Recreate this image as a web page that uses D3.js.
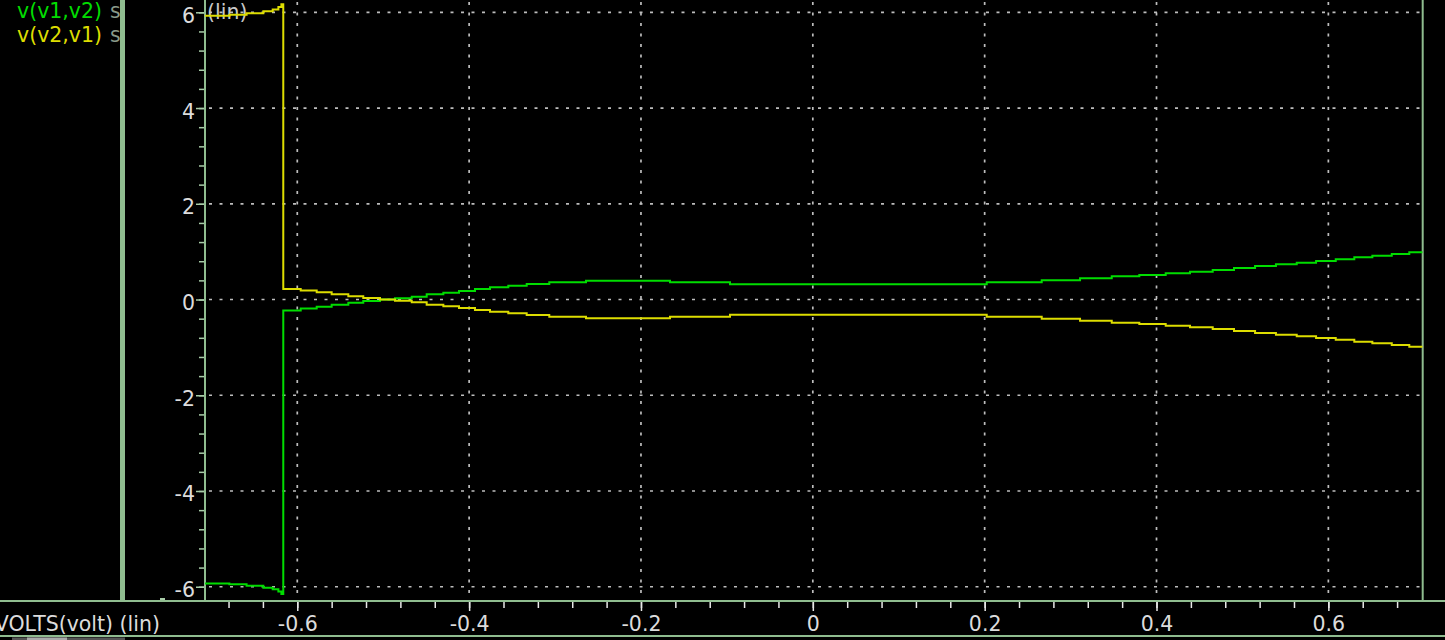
<!DOCTYPE html>
<html>
<head>
<meta charset="utf-8">
<script src="https://cdn.jsdelivr.net/npm/d3@7"></script>
<style>
    html,body{margin:0;padding:0;background:#000;}
    svg{display:block;}
    text{font-family:"DejaVu Sans",sans-serif;font-size:20.5px;}
</style>
</head>
<body>
<script>
// sweep points where each step starts (volts), last entry is the sweep end
var sweepX=[-0.7074,-0.679,-0.659,-0.6395,-0.6286,-0.622,-0.6185,-0.6163,
    -0.596,-0.5774,-0.560,-0.5406,-0.5232,-0.5037,-0.4863,-0.4668,-0.4494,-0.430,
    -0.4118,-0.3932,-0.3757,-0.3544,-0.333,-0.3067,-0.264,-0.1662,-0.0964,0.2024,
    0.2664,0.311,0.3479,0.38,0.4107,0.439,0.4654,0.4902,0.5147,0.539,0.5632,0.5857,
    0.6086,0.6302,0.6512,0.6738,0.6942,0.7098];
var v12=[-5.93,-5.95,-5.98,-6.02,-6.05,-6.10,-6.15,-0.23,
    -0.19,-0.15,-0.11,-0.07,-0.03,0.0,0.025,0.058,0.108,0.142,
    0.177,0.219,0.255,0.288,0.324,0.359,0.392,0.359,0.317,0.359,
    0.40,0.443,0.484,0.511,0.547,0.580,0.616,0.658,0.699,0.735,0.768,0.804,
    0.839,0.881,0.914,0.950,0.985,0.985];
var v21=[5.93,5.95,5.98,6.02,6.06,6.11,6.17,0.22,
    0.19,0.15,0.11,0.07,0.03,0.0,-0.025,-0.058,-0.108,-0.142,
    -0.177,-0.219,-0.255,-0.288,-0.324,-0.359,-0.392,-0.359,-0.317,-0.359,
    -0.40,-0.443,-0.484,-0.511,-0.547,-0.580,-0.616,-0.658,-0.699,-0.735,-0.768,-0.804,
    -0.839,-0.881,-0.914,-0.950,-0.985,-0.985];
var traceNames=["v(v1,v2)","v(v2,v1)"];
var xTicks=[-0.6,-0.4,-0.2,0,0.2,0.4,0.6];
var yTicks=[-6,-4,-2,0,2,4,6];

var W=1445, H=640;
var plotL=205, plotR=1422.7, plotT=0, plotB=601;
var frame="#8fbc8f";
var colors=["#00dd00","#dddd00"];

var svg=d3.select("body").append("svg")
    .attr("width",W)
    .attr("height",H);
svg.append("rect").attr("width",W).attr("height",H).attr("fill","#000");

var x=d3.scaleLinear().domain([-0.7074,0.7098]).range([plotL,plotR]);
var y=d3.scaleLinear().domain([-6.298,6.257]).range([plotB,plotT]);

svg.append("defs").append("clipPath").attr("id","plot")
    .append("rect")
        .attr("x",plotL).attr("y",plotT)
        .attr("width",plotR-plotL).attr("height",plotB-plotT);

// dotted grid
var grid=svg.append("g")
    .attr("stroke","#bdbdbd")
    .attr("stroke-width",1.7)
    .attr("stroke-dasharray","3,7.5");
grid.selectAll("line.h").data(yTicks)
    .enter().append("line")
        .attr("class","h")
        .attr("x1",plotL+4).attr("x2",plotR)
        .attr("y1",function(d){return y(d);})
        .attr("y2",function(d){return y(d);});
grid.selectAll("line.v").data(xTicks)
    .enter().append("line")
        .attr("class","v")
        .attr("x1",function(d){return x(d);})
        .attr("x2",function(d){return x(d);})
        .attr("y1",plotT+2).attr("y2",plotB);

// y axis (ticks on left side)
var yAxis=d3.axisLeft(y)
    .tickValues(yTicks)
    .tickSize(9)
    .tickFormat(function(d){return String(d);});
var yMinor=d3.axisLeft(y)
    .tickValues(d3.range(-6,6.01,0.4))
    .tickSize(6)
    .tickFormat("");
var gyMinor=svg.append("g").attr("transform","translate("+plotL+",0)").call(yMinor);
var gy=svg.append("g").attr("transform","translate("+plotL+",0)").call(yAxis);
[gy,gyMinor].forEach(function(g){
    g.select(".domain").remove();
    g.selectAll(".tick line").attr("stroke","#a8cca8").attr("stroke-width",1.5);
});
gy.selectAll(".tick text")
    .attr("fill","#dcdcdc")
    .attr("font-size",20.5)
    .attr("font-family","DejaVu Sans")
    .attr("x",-10)
    .attr("dy",null)
    .attr("y",10);

// x axis (ticks below)
var xAxis=d3.axisBottom(x)
    .tickValues(xTicks)
    .tickSize(10)
    .tickFormat(function(d){return d==0?"0":d.toFixed(1);});
var xMinor=d3.axisBottom(x)
    .tickValues(d3.range(-0.68,0.69,0.04))
    .tickSize(7)
    .tickFormat("");
var gxMinor=svg.append("g").attr("transform","translate(0,"+plotB+")").call(xMinor);
var gx=svg.append("g").attr("transform","translate(0,"+plotB+")").call(xAxis);
[gx,gxMinor].forEach(function(g){
    g.select(".domain").remove();
    g.selectAll(".tick line").attr("stroke","#e8e8e8").attr("stroke-width",1.5);
});
gx.selectAll(".tick text")
    .attr("fill","#dcdcdc")
    .attr("font-size",20.5)
    .attr("font-family","DejaVu Sans")
    .attr("dy",null)
    .attr("y",30);

// frame lines
svg.append("line").attr("x1",plotL).attr("x2",plotL).attr("y1",0).attr("y2",plotB)
    .attr("stroke",frame).attr("stroke-width",2);
svg.append("line").attr("x1",plotR).attr("x2",plotR).attr("y1",0).attr("y2",plotB)
    .attr("stroke",frame).attr("stroke-width",2);
svg.append("line").attr("x1",0).attr("x2",W).attr("y1",plotB).attr("y2",plotB)
    .attr("stroke",frame).attr("stroke-width",2);
svg.append("line").attr("x1",0).attr("x2",W).attr("y1",636).attr("y2",636)
    .attr("stroke",frame).attr("stroke-width",2);
svg.append("rect").attr("x",120).attr("y",0).attr("width",5).attr("height",600)
    .attr("fill",frame);
svg.append("rect").attr("x",160).attr("y",598).attr("width",5).attr("height",2)
    .attr("fill","#a8cca8");
svg.append("rect").attr("x",12).attr("y",637.5).attr("width",113).attr("height",3)
    .attr("fill","#555");
svg.append("rect").attr("x",27).attr("y",637.5).attr("width",40).attr("height",3)
    .attr("fill","#aaa");

// "(lin)" label in the plot corner
svg.append("text")
    .attr("x",207).attr("y",19)
    .attr("fill","#c8c8c8")
    .text("(lin)");

// x axis caption, starts just left of the window edge
svg.append("text")
    .attr("x",160).attr("y",631)
    .attr("text-anchor","end")
    .attr("fill","#dcdcdc")
    .text("VOLTS(volt) (lin)");

// traces
var line=d3.line()
    .x(function(d){return x(d[0]);})
    .y(function(d){return y(d[1]);})
    .curve(d3.curveStepAfter);
var traces=[v12,v21];
svg.append("g").attr("clip-path","url(#plot)")
    .selectAll("path").data(traces)
    .enter().append("path")
        .attr("d",function(vals){return line(d3.zip(sweepX,vals));})
        .attr("fill","none")
        .attr("stroke",function(d,i){return colors[i];})
        .attr("stroke-width",2);

// legend panel
var legend=svg.append("g");
legend.selectAll("text.name").data(traceNames)
    .enter().append("text")
        .attr("class","name")
        .attr("x",17)
        .attr("y",function(d,i){return 18+i*24;})
        .attr("fill",function(d,i){return colors[i];})
        .text(function(d){return d;});
legend.selectAll("text.s").data(traceNames)
    .enter().append("text")
        .attr("class","s")
        .attr("x",110)
        .attr("y",function(d,i){return 18+i*24;})
        .attr("fill","#8a9a8a")
        .text("s");
</script>
</body>
</html>
